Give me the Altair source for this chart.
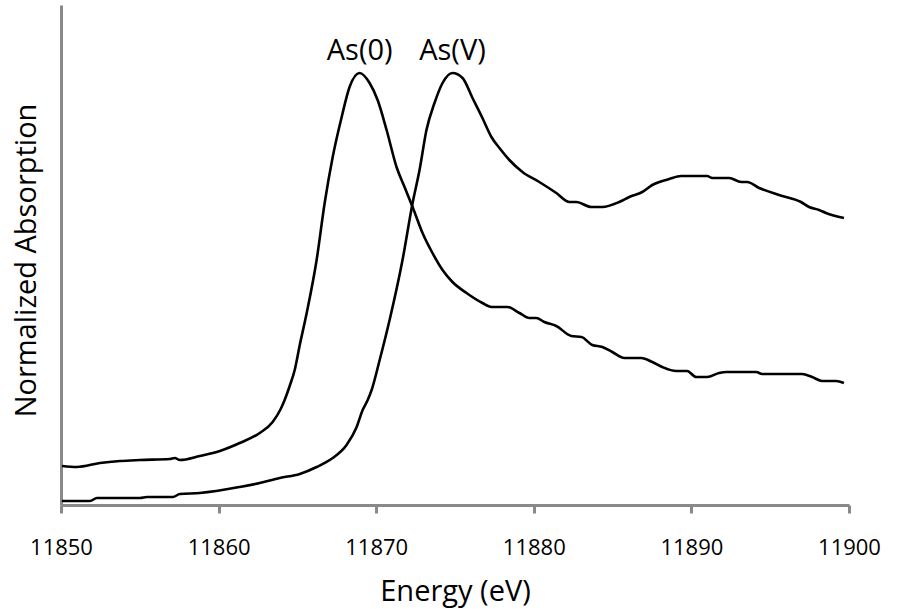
import altair as alt
import pandas as pd

# As(0) spectrum: energy (eV) and normalized absorption
as0_energy = [11850.06, 11851.01, 11852.47, 11853.74, 11855.01, 11856.91, 11857.22, 11857.54,
              11858.81, 11860.08, 11861.34, 11862.61, 11863.43, 11863.94, 11864.19, 11864.51,
              11864.83, 11865.15, 11865.59, 11866.22, 11866.73, 11867.24, 11867.81, 11868.31,
              11868.95, 11869.58, 11870.09, 11870.66, 11871.29, 11871.80, 11872.31, 11872.94,
              11873.57, 11874.21, 11874.84, 11875.73, 11876.74, 11877.31, 11878.33, 11879.09,
              11879.72, 11880.16, 11880.67, 11881.43, 11882.38, 11883.02, 11883.71, 11884.35,
              11884.98, 11885.74, 11886.82, 11887.52, 11888.15, 11889.04, 11889.73, 11890.30,
              11891.00, 11891.76, 11892.21, 11894.11, 11894.49, 11897.02, 11897.66, 11898.29,
              11899.18, 11899.68]
as0_abs = [0.078, 0.076, 0.084, 0.088, 0.090, 0.092, 0.094, 0.090,
           0.098, 0.108, 0.124, 0.144, 0.166, 0.192, 0.210, 0.238,
           0.270, 0.320, 0.384, 0.490, 0.604, 0.696, 0.776, 0.836,
           0.864, 0.844, 0.810, 0.750, 0.676, 0.636, 0.596, 0.544,
           0.504, 0.470, 0.446, 0.424, 0.404, 0.396, 0.396, 0.384,
           0.374, 0.374, 0.366, 0.358, 0.338, 0.336, 0.320, 0.316,
           0.306, 0.294, 0.294, 0.286, 0.276, 0.268, 0.268, 0.256,
           0.256, 0.264, 0.266, 0.266, 0.262, 0.262, 0.256, 0.248,
           0.248, 0.244]

# As(V) spectrum
asv_energy = [11850.06, 11851.84, 11852.28, 11855.01, 11855.45, 11857.10, 11857.54, 11858.81,
              11861.34, 11862.61, 11863.88, 11865.15, 11866.22, 11867.24, 11868.12, 11868.76,
              11869.14, 11869.46, 11869.71, 11870.22, 11870.85, 11871.67, 11872.31, 11872.75,
              11873.19, 11873.70, 11874.21, 11874.84, 11875.48, 11876.11, 11876.74, 11877.31,
              11877.82, 11878.45, 11879.28, 11880.35, 11881.43, 11882.26, 11882.70, 11883.65,
              11884.35, 11885.42, 11886.06, 11886.88, 11887.52, 11888.59, 11889.35, 11891.00,
              11891.32, 11892.40, 11893.16, 11893.54, 11894.30, 11895.56, 11896.96, 11897.47,
              11898.10, 11898.54, 11899.68]
asv_abs = [0.008, 0.008, 0.014, 0.014, 0.016, 0.016, 0.022, 0.024,
           0.036, 0.044, 0.054, 0.062, 0.076, 0.094, 0.120, 0.156,
           0.190, 0.210, 0.230, 0.290, 0.370, 0.490, 0.604, 0.670,
           0.750, 0.804, 0.844, 0.864, 0.854, 0.814, 0.774, 0.736,
           0.714, 0.690, 0.666, 0.646, 0.624, 0.606, 0.606, 0.596,
           0.596, 0.606, 0.616, 0.626, 0.640, 0.652, 0.658, 0.658,
           0.654, 0.654, 0.646, 0.646, 0.634, 0.620, 0.606, 0.596,
           0.590, 0.584, 0.574]

# Peak labels
label_text = ["As(0)", "As(V)"]
label_energy = [11868.95, 11874.84]
label_abs = [0.89, 0.89]

x_ticks = [11850, 11860, 11870, 11880, 11890, 11900]

df = pd.concat([
    pd.DataFrame({"energy": as0_energy, "abs": as0_abs, "species": "As(0)"}),
    pd.DataFrame({"energy": asv_energy, "abs": asv_abs, "species": "As(V)"}),
])
labels = pd.DataFrame({"text": label_text, "energy": label_energy, "abs": label_abs})

FONT = "Open Sans"
GRAY = "#898989"

x_scale = alt.Scale(domain=[11850, 11900], nice=False, zero=False)
y_scale = alt.Scale(domain=[0, 1], nice=False)

lines = alt.Chart(df).mark_line(color="black", strokeWidth=2.6, interpolate="monotone").encode(
    x=alt.X("energy:Q", scale=x_scale,
            axis=alt.Axis(values=x_ticks, title="Energy (eV)", format="d",
                          grid=False, domainColor=GRAY, domainWidth=3,
                          tickColor=GRAY, tickWidth=3, tickSize=8,
                          labelFont=FONT, labelFontSize=22, labelColor="black",
                          labelPadding=24, labelFlush=False,
                          titleFont=FONT, titleFontSize=29, titleFontWeight="normal",
                          titleColor="black", titleBaseline="alphabetic",
                          titleY=95)),
    y=alt.Y("abs:Q", scale=y_scale,
            axis=alt.Axis(title="Normalized Absorption", labels=False, ticks=False,
                          grid=False, domainColor=GRAY, domainWidth=3,
                          titleFont=FONT, titleFontSize=29, titleFontWeight="normal",
                          titleColor="black", titleAngle=-90, titleAlign="center",
                          titleBaseline="alphabetic", titleX=-26, titleY=255)),
    detail="species:N",
)

text = alt.Chart(labels).mark_text(font=FONT, fontSize=29, color="black",
                                   baseline="alphabetic", align="center").encode(
    x=alt.X("energy:Q", scale=x_scale),
    y=alt.Y("abs:Q", scale=y_scale),
    text="text:N",
)

chart = (lines + text).properties(
    width=788, height=500,
    autosize=alt.AutoSizeParams(type="none"),
    padding={"left": 61, "top": 5, "right": 49, "bottom": 104},
    background="white",
).configure_view(stroke=None)

chart.save("out.html", embed_options={"renderer": "svg", "actions": False})
